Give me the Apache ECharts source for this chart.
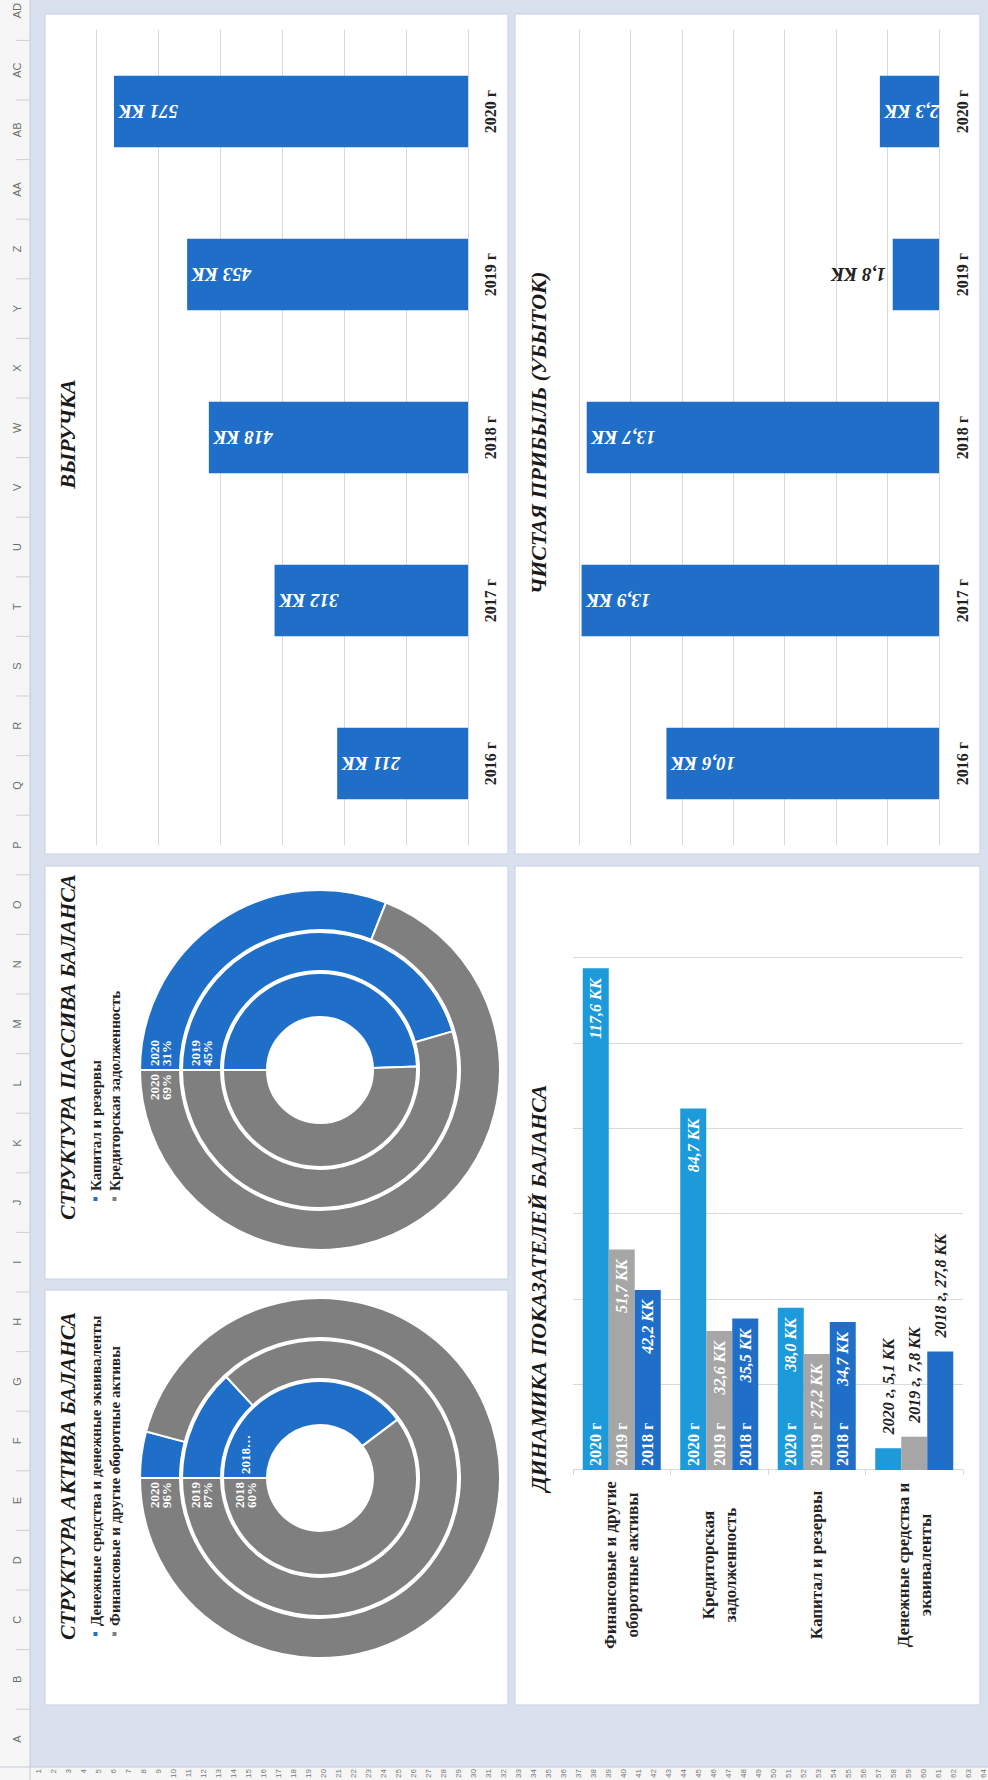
<!DOCTYPE html>
<html>
<head>
<meta charset="utf-8">
<script src="https://cdn.jsdelivr.net/npm/echarts@6/dist/echarts.min.js"></script>
<style>
  html, body { margin: 0; padding: 0; background: #d9e0ee; overflow: hidden; width: 988px; height: 1780px; }
  /* the sheet is laid out landscape and turned a quarter turn counter-clockwise */
  #sheet { position: absolute; left: 0; top: 0; width: 1780px; height: 988px;
           transform-origin: 0 0; transform: translate(0, 1780px) rotate(-90deg); }
</style>
</head>
<body>
<div id="sheet"></div>
<script>
// ---- data ----
const years = ['2016 г', '2017 г', '2018 г', '2019 г', '2020 г'];
const revenue = [211, 312, 418, 453, 571];
const netProfit = [10.6, 13.9, 13.7, 1.8, 2.3];

const balanceItems = [
  'Финансовые и другие\nоборотные активы',
  'Кредиторская\nзадолженность',
  'Капитал и резервы',
  'Денежные средства и\nэквиваленты'
];
const balanceYears = ['2020 г', '2019 г', '2018 г'];
const balance2020 = [117.6, 84.7, 38.0, 5.1];
const balance2019 = [51.7, 32.6, 27.2, 7.8];
const balance2018 = [42.2, 35.5, 34.7, 27.8];

const ringYears = ['2018', '2019', '2020'];
const assetNames = ['Денежные средства и денежные эквиваленты', 'Финансовые и другие оборотные активы'];
const liabilityNames = ['Капитал и резервы', 'Кредиторская задолженность'];

const columnLetters = ['A','B','C','D','E','F','G','H','I','J','K','L','M','N','O','P','Q','R','S','T','U','V','W','X','Y','Z','AA','AB','AC','AD'];

// ---- styling ----
const SERIF = '"Liberation Serif", "DejaVu Serif", serif';
const BLUE = '#1f6fc8';
const LIGHT_BLUE = '#1d9ad9';
const GREY_BAR = '#a6a6a6';
const GREY_RING = '#7f7f7f';
const GRID_LINE = '#d9d9d9';
const DARK = '#222';

const kk1 = v => v.toFixed(1).replace('.', ',') + ' КК';

// ---- sheet decoration ----
const W = 1780, H = 988;
const graphics = [];
graphics.push({ type: 'rect', z: -20, shape: { x: 0, y: 0, width: W, height: 30 }, style: { fill: '#f6f6f6' } });
graphics.push({ type: 'rect', z: -20, shape: { x: 0, y: 0, width: 13, height: H }, style: { fill: '#f6f6f6' } });
graphics.push({ type: 'line', z: -19, shape: { x1: 0, y1: 30, x2: W, y2: 30 }, style: { stroke: '#c3c8d6', lineWidth: 1 } });
graphics.push({ type: 'line', z: -19, shape: { x1: 13, y1: 0, x2: 13, y2: H }, style: { stroke: '#c3c8d6', lineWidth: 1 } });

const colStart = 41, colW = 59.6;
columnLetters.forEach((c, k) => {
  const cx = colStart + k * colW;
  graphics.push({ type: 'text', z: -18, x: cx, y: 17,
    style: { text: c, align: 'center', verticalAlign: 'middle', fontSize: 11, fontFamily: '"Liberation Sans", sans-serif', fill: '#6e6e6e' } });
  graphics.push({ type: 'line', z: -18, shape: { x1: cx + colW / 2, y1: 16, x2: cx + colW / 2, y2: 29 }, style: { stroke: '#cfcfcf', lineWidth: 1 } });
});
for (let r = 1; r <= 64; r++) {
  graphics.push({ type: 'text', z: -18, x: 11, y: 38 + (r - 1) * 15,
    style: { text: String(r), align: 'right', verticalAlign: 'middle', fontSize: 8, fontFamily: '"Liberation Sans", sans-serif', fill: '#777' } });
}

// chart panels
const panels = [
  [75, 45, 415, 463],   // asset structure
  [501, 45, 413, 463],  // liability structure
  [926, 45, 840, 463],  // revenue
  [75, 515, 839, 465],  // balance dynamics
  [926, 515, 840, 465]  // net profit
];
panels.forEach(([x, y, w, h]) => graphics.push({ type: 'rect', z: -10,
  shape: { x, y, width: w, height: h }, style: { fill: '#ffffff', stroke: '#c9cfe2', lineWidth: 1 } }));

// titles
const titleStyle = { fontFamily: SERIF, fontStyle: 'italic', fontWeight: 'bold', fontSize: 22, fill: '#1a1a1a', verticalAlign: 'top' };
function title(text, x, y, align) {
  graphics.push({ type: 'text', z: 10, x, y, style: Object.assign({ text, align }, titleStyle) });
}
title('СТРУКТУРА АКТИВА БАЛАНСА', 140, 56, 'left');
title('СТРУКТУРА ПАССИВА БАЛАНСА', 560, 56, 'left');
title('ВЫРУЧКА', 1346, 56, 'center');
title('ДИНАМИКА ПОКАЗАТЕЛЕЙ БАЛАНСА', 492, 527, 'center');
title('ЧИСТАЯ ПРИБЫЛЬ (УБЫТОК)', 1347, 527, 'center');

// ---- series ----
const series = [];
const barLabel = { color: '#fff', fontFamily: SERIF, fontStyle: 'italic', fontWeight: 'bold' };

// revenue columns
series.push({
  type: 'bar', xAxisIndex: 0, yAxisIndex: 0, barWidth: '44%',
  itemStyle: { color: BLUE },
  label: Object.assign({ show: true, position: 'insideTop', rotate: 90, align: 'right', verticalAlign: 'middle',
    distance: 5, fontSize: 19, formatter: p => p.value + ' КК' }, barLabel),
  data: revenue
});

// net profit columns
series.push({
  type: 'bar', xAxisIndex: 1, yAxisIndex: 1, barWidth: '44%',
  itemStyle: { color: BLUE },
  label: Object.assign({ show: true, position: 'insideTop', rotate: 90, align: 'right', verticalAlign: 'middle',
    distance: 5, fontSize: 19, formatter: p => kk1(p.value) }, barLabel),
  data: netProfit.map(v => v < 2
    ? { value: v, label: { position: 'top', align: 'left', color: DARK, distance: 7 } }
    : v)
});

// balance bars: values at bar ends, year names at bar bases
const balanceSets = [balance2020, balance2019, balance2018];
const balanceColors = [LIGHT_BLUE, GREY_BAR, BLUE];
const lastItem = balanceItems.length - 1;
balanceSets.forEach((vals, s) => {
  series.push({
    type: 'bar', name: balanceYears[s], xAxisIndex: 2, yAxisIndex: 2, barGap: '0%', barCategoryGap: '20%',
    itemStyle: { color: balanceColors[s] },
    label: Object.assign({ show: true, position: 'insideRight', distance: 10, fontSize: 16,
      formatter: p => kk1(p.value) }, barLabel),
    data: vals.map((v, i) => i === lastItem
      ? { value: v, label: { position: 'right', distance: 14, color: DARK, formatter: balanceYears[s] + ', ' + kk1(v) } }
      : v)
  });
});
balanceSets.forEach((vals, s) => {
  series.push({
    type: 'bar', xAxisIndex: 3, yAxisIndex: 3, barGap: '0%', barCategoryGap: '20%', silent: true,
    itemStyle: { color: 'rgba(0,0,0,0)' },
    label: Object.assign({ show: true, position: 'insideLeft', distance: 4, fontSize: 16,
      formatter: balanceYears[s] }, barLabel, { fontStyle: 'normal' }),
    data: vals.map((v, i) => i === lastItem ? { value: v, label: { show: false } } : v)
  });
});

// multi-ring doughnuts (inner ring 2018, outer ring 2020)
const ringRadii = [[53, 97], [99, 138], [140, 180]];
function rings(center, names, firstVals, secondVals, showFirst, showSecond, shortFirst) {
  ringYears.forEach((yr, r) => {
    const [ri, ro] = ringRadii[r];
    const rm = (ri + ro) / 2;
    series.push({
      type: 'pie', center, radius: [ri, ro], startAngle: 90, clockwise: true,
      percentPrecision: 0, silent: true, animation: false,
      itemStyle: { borderColor: '#fff', borderWidth: 2 },
      labelLine: { show: false },
      label: { show: true, position: 'inside', color: '#fff', fontFamily: SERIF, fontWeight: 'bold',
        fontSize: 13, lineHeight: 12,
        formatter: p => (p.dataIndex === 0 && shortFirst[r]) ? yr + '…' : yr + '\n' + p.percent + '%' },
      labelLayout: p => p.dataIndex === 0
        ? { x: center[0] + 4, y: center[1] - rm, align: 'left', verticalAlign: 'middle' }
        : { x: center[0] - 4, y: center[1] - rm, align: 'right', verticalAlign: 'middle' },
      data: [
        { name: names[0], value: firstVals[r], itemStyle: { color: BLUE }, label: { show: showFirst[r] } },
        { name: names[1], value: secondVals[r], itemStyle: { color: GREY_RING }, label: { show: showSecond[r] } }
      ]
    });
  });
}
// ring values are taken from the balance lines, ordered 2018, 2019, 2020
const byRing = arr => [arr[2], arr[1], arr[0]];
const col = k => balanceSets.map(a => a[k]);
rings([302, 320], assetNames, byRing(col(3)), byRing(col(0)),
  [true, false, false], [true, true, true], [true, false, false]);
rings([710, 320], liabilityNames, byRing(col(2)), byRing(col(1)),
  [false, true, true], [false, false, true], [false, false, false]);

// ---- axes ----
const hiddenValueAxis = (gridIndex, max, interval) => ({
  type: 'value', gridIndex, min: 0, max, interval,
  axisLabel: { show: false }, axisLine: { show: false }, axisTick: { show: false },
  splitLine: { show: true, lineStyle: { color: GRID_LINE, width: 1 } }
});
const yearAxis = (gridIndex, margin) => ({
  type: 'category', gridIndex, data: years,
  axisLine: { show: true, lineStyle: { color: GRID_LINE } }, axisTick: { show: false },
  axisLabel: { margin, color: DARK, fontFamily: SERIF, fontWeight: 'bold', fontSize: 16 }
});

const legendText = { fontFamily: SERIF, fontWeight: 'bold', fontSize: 15, color: DARK };

const option = {
  animation: false,
  backgroundColor: 'transparent',
  textStyle: { fontFamily: SERIF },
  graphic: graphics,
  legend: [
    { data: assetNames, left: 142, top: 88, orient: 'vertical', icon: 'rect', itemWidth: 6, itemHeight: 6,
      itemGap: 4, selectedMode: false, textStyle: legendText, padding: 0 },
    { data: liabilityNames, left: 577, top: 88, orient: 'vertical', icon: 'rect', itemWidth: 6, itemHeight: 6,
      itemGap: 4, selectedMode: false, textStyle: legendText, padding: 0 }
  ],
  grid: [
    { left: 935, top: 96, width: 815, height: 372 },   // revenue
    { left: 935, top: 579, width: 815, height: 360 },  // net profit
    { left: 310, top: 573, width: 512, height: 390 }   // balance dynamics
  ],
  xAxis: [
    yearAxis(0, 14),
    yearAxis(1, 15),
    hiddenValueAxis(2, 120, 20),
    { type: 'value', gridIndex: 2, min: 0, max: 120, interval: 20, show: false }
  ],
  yAxis: [
    hiddenValueAxis(0, 600, 100),
    hiddenValueAxis(1, 14, 2),
    { type: 'category', gridIndex: 2, data: balanceItems, inverse: true,
      axisLine: { show: true, lineStyle: { color: GRID_LINE } },
      axisTick: { show: true, length: 5, lineStyle: { color: GRID_LINE } },
      axisLabel: { align: 'center', margin: 95, color: DARK, fontFamily: SERIF, fontWeight: 'bold',
        fontSize: 17, lineHeight: 22 } },
    { type: 'category', gridIndex: 2, data: balanceItems, inverse: true, show: false }
  ],
  series
};

const chart = echarts.init(document.getElementById('sheet'), null, { renderer: 'svg', width: W, height: H });
chart.setOption(option);
</script>
</body>
</html>
